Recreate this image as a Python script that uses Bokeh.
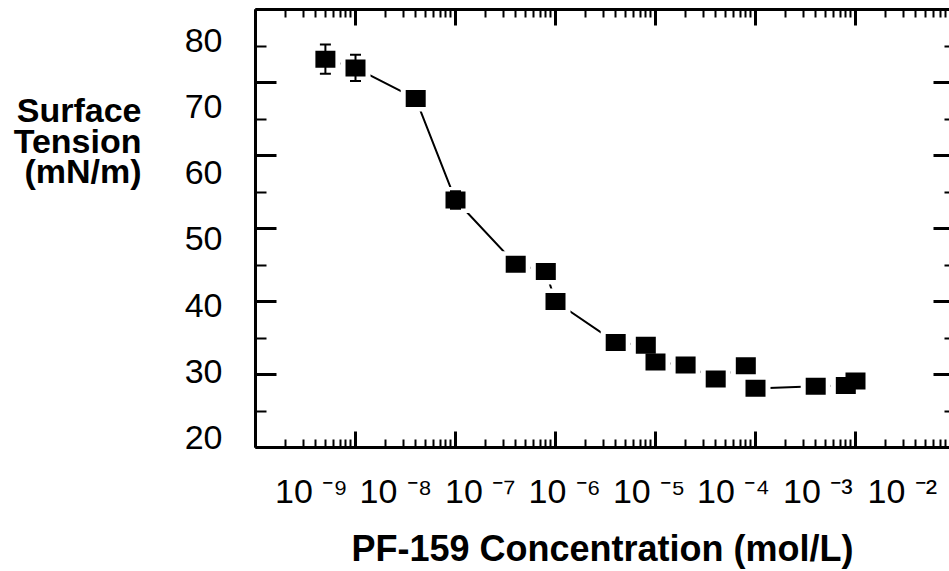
import numpy as np
from bokeh.plotting import figure
from bokeh.models import (LogAxis, LinearAxis, Range1d, FixedTicker,
                          CustomJSTickFormatter, LinearScale)
from bokeh.embed import file_html
from bokeh.resources import INLINE

# ---------------- data ----------------
concentration = [5e-10, 1e-9, 4e-9, 1e-8, 4e-8, 8e-8, 1e-7, 4e-7, 8e-7,
                 1e-6, 2e-6, 4e-6, 8e-6, 1e-5, 4e-5, 8e-5, 1e-4]
tension = [73.2, 72.0, 67.8, 53.9, 45.1, 44.1, 40.0, 34.4, 34.0,
           31.7, 31.3, 29.4, 31.2, 28.1, 28.4, 28.5, 29.1]
tension_err = [2.0, 1.8, 1.0, 1.2, 0.4, 0.4, 0.4, 0.4, 0.4,
               0.4, 0.4, 0.4, 0.4, 0.4, 0.4, 0.4, 0.4]

x_exponents = [-9, -8, -7, -6, -5, -4, -3, -2]
x_tick_labels = ["10 \u207b\u2079", "10 \u207b\u2078", "10 \u207b\u2077", "10 \u207b\u2076",
                 "10 \u207b\u2075", "10 \u207b\u2074", "10 \u207b\u00b3", "10 \u207b\u00b2"]
y_tick_values = [20, 30, 40, 50, 60, 70, 80]
y_title_lines = ["Surface", "Tension", "(mN/m)"]
x_title = "PF-159 Concentration (mol/L)"

FONT = "Liberation Sans"

# ---------------- figure ----------------
p = figure(width=949, height=571, x_axis_type="log",
           x_range=Range1d(1e-10, 10 ** -3.06), y_range=Range1d(20, 80),
           output_backend="svg", toolbar_location=None,
           min_border_left=255, min_border_right=0, min_border_top=9, min_border_bottom=119)
p.outline_line_color = None
p.grid.visible = False
p.background_fill_color = "white"
p.border_fill_color = "white"

blank = CustomJSTickFormatter(code="return ''")

decades = [10.0 ** k for k in range(-10, -2)]
minor_decades = [m * 10.0 ** k for k in range(-10, -3) for m in range(2, 10)]
y_minor = [v + 5 for v in y_tick_values[:-1]]


def style_tick_axis(ax, major_in, minor_in, line=True):
    ax.formatter = blank
    ax.major_label_text_font_size = "0px"
    ax.major_label_standoff = 0
    ax.major_tick_out = 0
    ax.minor_tick_out = 0
    ax.major_tick_in = major_in
    ax.minor_tick_in = minor_in
    ax.major_tick_line_width = 3
    ax.minor_tick_line_width = 2
    ax.major_tick_line_color = "black"
    ax.minor_tick_line_color = "black"
    if line:
        ax.axis_line_width = 3
        ax.axis_line_color = "black"
    else:
        ax.axis_line_color = None


def style_label_axis(ax, standoff, size, bold=False):
    ax.axis_line_color = None
    ax.major_tick_line_color = None
    ax.minor_tick_line_color = None
    ax.major_tick_in = 0
    ax.major_tick_out = 0
    ax.minor_tick_in = 0
    ax.minor_tick_out = 0
    ax.major_label_standoff = standoff
    ax.major_label_text_font = FONT
    ax.major_label_text_font_size = size
    ax.major_label_text_color = "black"
    if bold:
        ax.major_label_text_font_style = "bold"


# bottom and top log axes (ticks only)
xb = p.xaxis[0]
xb.ticker = FixedTicker(ticks=decades, minor_ticks=minor_decades)
style_tick_axis(xb, 16, 8)
xt = LogAxis(ticker=FixedTicker(ticks=decades, minor_ticks=minor_decades))
style_tick_axis(xt, 16, 8)
p.add_layout(xt, "above")

# left and right linear axes (ticks only)
yl = p.yaxis[0]
yl.ticker = FixedTicker(ticks=y_tick_values, minor_ticks=y_minor)
style_tick_axis(yl, 21, 11)
yr = LinearAxis(ticker=FixedTicker(ticks=y_tick_values, minor_ticks=y_minor))
style_tick_axis(yr, 16, 5, line=False)
p.add_layout(yr, "right")

# label row under the x axis (its own linear range)
p.extra_x_ranges = {"xlab": Range1d(-9.6635, -1.441)}
p.extra_x_scales = {"xlab": LinearScale()}
xl = LinearAxis(x_range_name="xlab", ticker=FixedTicker(ticks=x_exponents),
                major_label_overrides=dict(zip(x_exponents, x_tick_labels)))
style_label_axis(xl, 24, "34px")
xl.axis_label = x_title
xl.axis_label_text_font = FONT
xl.axis_label_text_font_size = "36px"
xl.axis_label_text_font_style = "bold"
xl.axis_label_text_color = "black"
xl.axis_label_standoff = 15
p.add_layout(xl, "below")

# numeric label column left of the y axis
p.extra_y_ranges = {"ylab": Range1d(18.507, 84.63), "ytxt": Range1d(443, 0)}
p.extra_y_scales = {"ylab": LinearScale(), "ytxt": LinearScale()}
yn = LinearAxis(y_range_name="ylab", ticker=FixedTicker(ticks=y_tick_values))
style_label_axis(yn, 33, "34px")
p.add_layout(yn, "left")

# y title, one line per tick
title_pos = [102, 133, 163]
yt = LinearAxis(y_range_name="ytxt", ticker=FixedTicker(ticks=title_pos),
                major_label_overrides=dict(zip(title_pos, y_title_lines)))
style_label_axis(yt, 40, "34px", bold=True)
p.add_layout(yt, "left")

# ---------------- marks ----------------
t = np.array(tension)
e = np.array(tension_err)
upper = t + e
lower = t - e

p.line(concentration, tension, line_width=2, line_color="black")
# white halo so that the connecting line stops short of the markers
p.rect(concentration, tension, width=30, height=26, width_units="screen",
       height_units="screen", fill_color="white", line_color=None)
p.segment(concentration, lower, concentration, upper, line_width=2, line_color="black")
p.scatter(concentration, upper, marker="dash", size=11, line_width=2, line_color="black")
p.scatter(concentration, lower, marker="dash", size=11, line_width=2, line_color="black")
p.rect(concentration, tension, width=20, height=17, width_units="screen",
       height_units="screen", fill_color="black", line_color=None)

open("out.html", "w").write(file_html(p, INLINE))
